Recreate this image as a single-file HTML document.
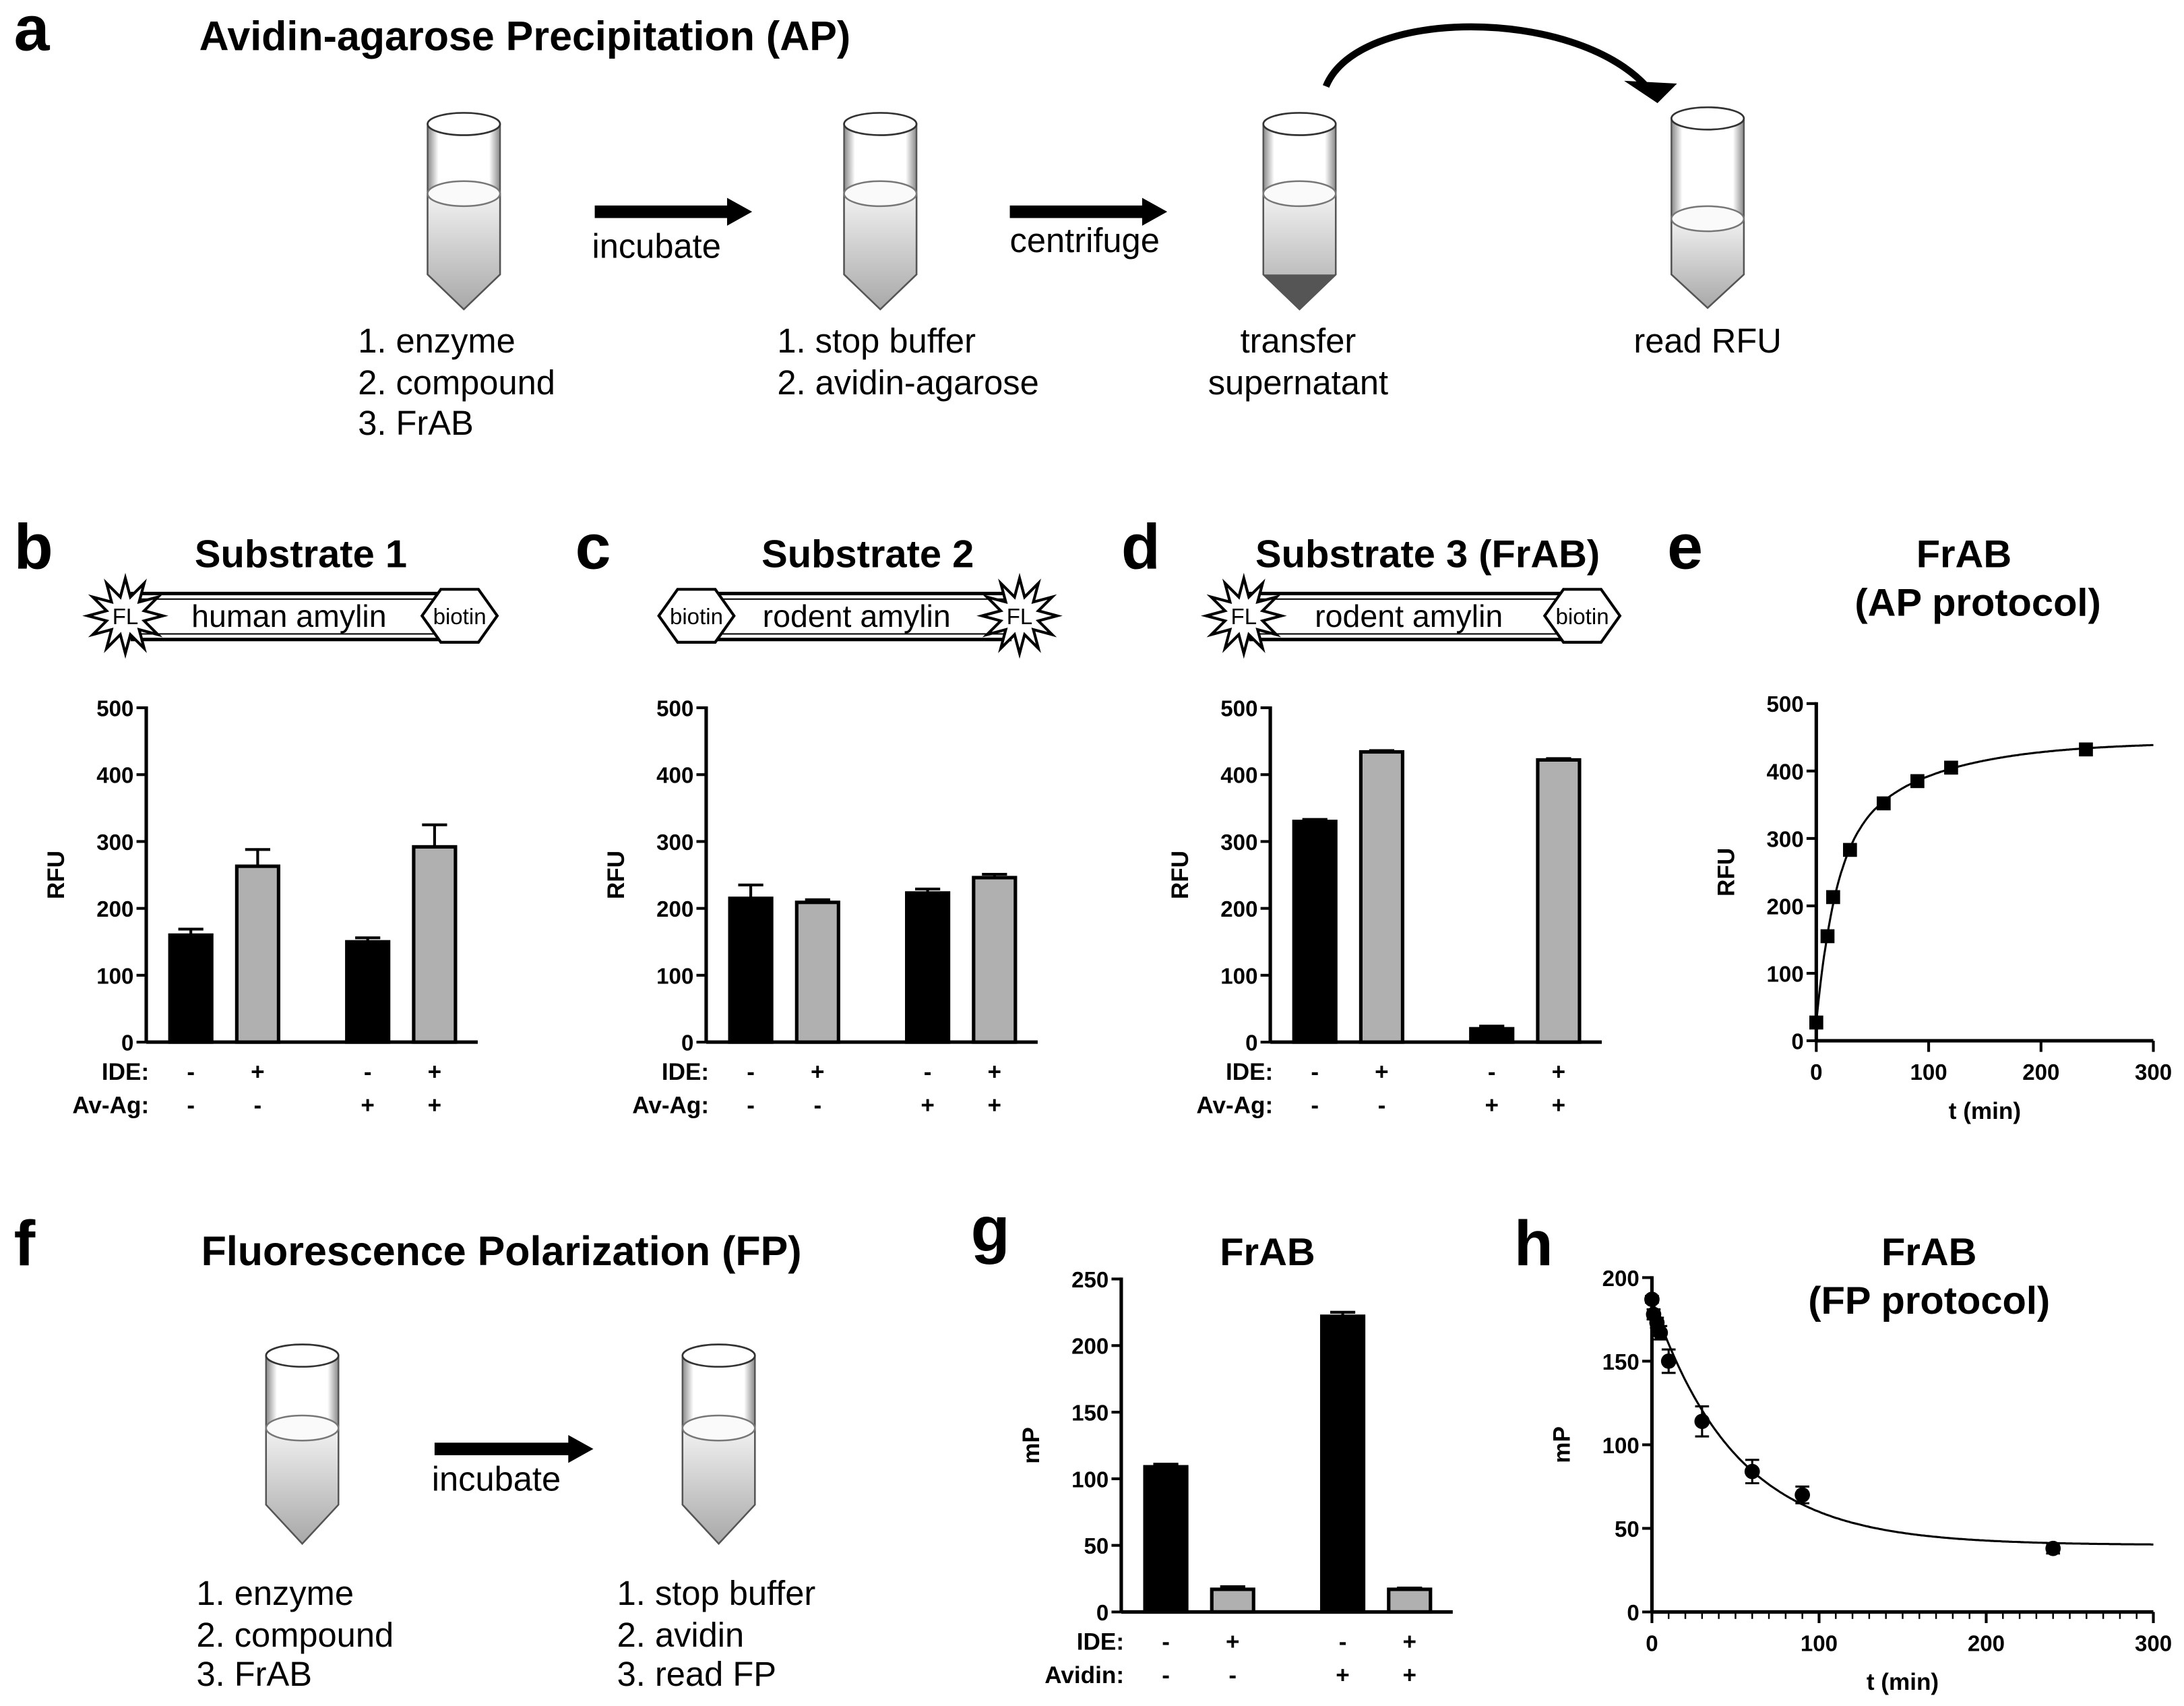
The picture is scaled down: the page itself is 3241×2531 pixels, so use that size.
<!DOCTYPE html>
<html><head><meta charset="utf-8"><style>
html,body{margin:0;padding:0;background:#fff}
svg{display:block}
text{font-family:"Liberation Sans",Arial,sans-serif}
.b{font-weight:bold}
</style></head><body>
<svg id="fig" xmlns="http://www.w3.org/2000/svg" width="3241" height="2531" viewBox="0 0 1568 1224.5">
<defs>
<linearGradient id="liq" x1="0" y1="0" x2="0" y2="1"><stop offset="0" stop-color="#f2f2f2"/><stop offset="1" stop-color="#a8a8a8"/></linearGradient>
<linearGradient id="glass" x1="0" y1="0" x2="1" y2="0"><stop offset="0" stop-color="#888"/><stop offset="0.15" stop-color="#fff"/><stop offset="0.85" stop-color="#fff"/><stop offset="1" stop-color="#888"/></linearGradient>
</defs>
<g id="static"></g>
<g id="charts"></g>
</svg>
<script>
// ---------- chart data ----------
const barCats = ["IDE-/Av-", "IDE+/Av-", "IDE-/Av+", "IDE+/Av+"];
const subs1Vals = [160, 263, 150, 292];
const subs1Err = [9, 25, 6, 33];
const subs2Vals = [215, 209, 223, 246];
const subs2Err = [20, 4, 6, 5];
const subs3Vals = [330, 434, 20, 422];
const subs3Err = [3, 2, 4, 2];
const fpBarVals = [109, 17, 222, 17];
const fpBarErr = [2, 2, 3, 1];
const rfuTicks = [0, 100, 200, 300, 400, 500];
const mpTicks = [0, 50, 100, 150, 200, 250];
const timeTicks = [0, 100, 200, 300];
const mpTimeTicks = [0, 50, 100, 150, 200];
const apTimes = [0, 10, 15, 30, 60, 90, 120, 240];
const apRFU = [27, 155, 213, 283, 352, 385, 405, 432];
const apFitParams = [27, 250, 0.06, 166, 0.012]; // Y0, A1, k1, A2, k2
const fpTimes = [0, 1, 3, 5, 10, 30, 60, 90, 240];
const fpMP = [187, 178, 173, 167, 150, 114, 84, 70, 38];
const fpErr = [2, 3, 3, 4, 7, 9, 7, 5, 3];
const fpFitParams = [187, 40, 0.02]; // Y0, plateau, k

const NS = "http://www.w3.org/2000/svg";
const S = document.getElementById('static');
const C = document.getElementById('charts');
function mk(tag, attrs, parent, txt){const e=document.createElementNS(NS,tag);for(const k in attrs)e.setAttribute(k,attrs[k]);if(txt!==undefined)e.textContent=txt;(parent||S).appendChild(e);return e;}

// ---------- panel labels & titles ----------
const labels=[["a",10,36],["b",10,408],["c",413,408],["d",805,408],["e",1197,408],["f",10,908],["g",697,898],["h",1087,908]];
labels.forEach(l=>{const t=mk('text',{x:l[1],y:l[2],'font-size':46,class:'b'},S,l[0]);

});
function title(txt,x,y,size,name,anchor){const t=mk('text',{x:x,y:y,'font-size':size,class:'b','text-anchor':anchor||'middle'},S,txt);

return t;}
title("Avidin-agarose Precipitation (AP)",143,36,29.5,'title-ap','start');
title("Substrate 1",216,407,28,'title-substrate-1');
title("Substrate 2",623,407,28,'title-substrate-2');
title("Substrate 3 (FrAB)",1025,407,28,'title-substrate-3');
title("FrAB",1410,407,28,'title-e-line1');
title("(AP protocol)",1420,442,28,'title-e-line2');
title("Fluorescence Polarization (FP)",360,908,29.5,'title-fp');
title("FrAB",910,908,28,'title-g');
title("FrAB",1385,908,28,'title-h-line1');
title("(FP protocol)",1385,943,28,'title-h-line2');

// ---------- tubes ----------
function tube(x,top,liq,bodyEnd,tip,dark,name){
  const g=mk('g',{});
  
  
  const w=52,cx=x+w/2;
  mk('path',{d:`M${x},${top+8} L${x},${bodyEnd} L${cx},${tip} L${x+w},${bodyEnd} L${x+w},${top+8} Z`,fill:'url(#glass)',stroke:'#555','stroke-width':1.2},g);
  mk('path',{d:`M${x},${liq} L${x},${bodyEnd} L${cx},${tip} L${x+w},${bodyEnd} L${x+w},${liq} Z`,fill:'url(#liq)',stroke:'#555','stroke-width':1.2},g);
  if(dark) mk('path',{d:`M${x},${bodyEnd} L${cx},${tip} L${x+w},${bodyEnd} Z`,fill:'#555'},g);
  mk('ellipse',{cx:cx,cy:top+8,rx:w/2,ry:8,fill:'#fff',stroke:'#333','stroke-width':1.3},g);
  mk('ellipse',{cx:cx,cy:liq,rx:w/2,ry:9,fill:'#fafafa',stroke:'#777','stroke-width':1.2},g);
}
tube(307,81,139,197,222,false,'tube-1-ap');
tube(606,81,139,197,222,false,'tube-2-ap');
tube(907,81,139,197,222,true,'tube-3-ap');
tube(1200,77,157,197,221,false,'tube-4-ap');
tube(191,965,1025,1080,1108,false,'tube-1-fp');
tube(490,965,1025,1080,1108,false,'tube-2-fp');

function arrow(x1,x2,y,name){const g=mk('g',{});


mk('rect',{x:x1,y:y-4.5,width:x2-x1-16,height:9,fill:'#000'},g);
mk('path',{d:`M${x2-18},${y-10} L${x2},${y} L${x2-18},${y+10} Z`,fill:'#000'},g);}
arrow(427,540,152,'arrow-incubate-ap');
arrow(725,838,152,'arrow-centrifuge');
arrow(312,426,1040,'arrow-incubate-fp');
const cur=mk('path',{d:'M952,62 C975,5 1130,5 1182,62',fill:'none',stroke:'#000','stroke-width':5});


const ch=mk('path',{d:'M1166,58 L1204,60 L1190,74 Z',fill:'#000'});



function txt(s,x,y,name,anchor,size){const t=mk('text',{x:x,y:y,'font-size':size||24.5,'text-anchor':anchor||'start'},S,s);

return t;}
txt("incubate",425,185,'label-incubate-ap');
txt("centrifuge",725,181,'label-centrifuge');
txt("1. enzyme",257,253,'step-enzyme-ap');
txt("2. compound",257,283,'step-compound-ap');
txt("3. FrAB",257,312,'step-frab-ap');
txt("1. stop buffer",558,253,'step-stop-buffer-ap');
txt("2. avidin-agarose",558,283,'step-avidin-agarose');
txt("transfer",932,253,'label-transfer','middle');
txt("supernatant",932,283,'label-supernatant','middle');
txt("read RFU",1226,253,'label-read-rfu','middle');
txt("incubate",310,1070,'label-incubate-fp');
txt("1. enzyme",141,1152,'step-enzyme-fp');
txt("2. compound",141,1182,'step-compound-fp');
txt("3. FrAB",141,1210,'step-frab-fp');
txt("1. stop buffer",443,1152,'step-stop-buffer-fp');
txt("2. avidin",443,1182,'step-avidin-fp');
txt("3. read FP",443,1210,'step-read-fp');

// ---------- peptide diagrams ----------
function star(cx,cy,g){let p=[];for(let i=0;i<24;i++){const r=i%2?14:27;const a=Math.PI*i/12;p.push((cx+r*Math.cos(a)).toFixed(1)+','+(cy+r*Math.sin(a)).toFixed(1));}
mk('polygon',{points:p.join(' '),fill:'#fff',stroke:'#000','stroke-width':2},g);
mk('text',{x:cx,y:cy+6,'font-size':16,'text-anchor':'middle'},g,'FL');}
function hexa(cx,cy,g){const w=27,h=19;mk('polygon',{points:`${cx-w},${cy} ${cx-w/2},${cy-h} ${cx+w/2},${cy-h} ${cx+w},${cy} ${cx+w/2},${cy+h} ${cx-w/2},${cy+h}`,fill:'#fff',stroke:'#000','stroke-width':2},g);
mk('text',{x:cx,y:cy+6,'font-size':16,'text-anchor':'middle'},g,'biotin');}
function peptide(x1,x2,label,starX,hexX,name){const g=mk('g',{});


mk('rect',{x:x1,y:426,width:x2-x1,height:33,fill:'#fff',stroke:'#000','stroke-width':2.5},g);
mk('rect',{x:x1,y:430,width:x2-x1,height:25,fill:'#fff',stroke:'#000','stroke-width':1},g);
mk('text',{x:(x1+x2)/2,y:450,'font-size':22.5,'text-anchor':'middle'},g,label);
star(starX,442,g);hexa(hexX,442,g);}
peptide(95,320,'human amylin',90,330,'peptide-substrate-1');
peptide(505,725,'rodent amylin',732,500,'peptide-substrate-2');
peptide(898,1125,'rodent amylin',893,1136,'peptide-substrate-3');

// ---------- bar charts ----------
function barChart(o){
  const g=mk('g',{},C);
  
  
  const ys=v=>o.y0-(v/o.ymax)*(o.y0-o.ytop);
  const xs=i=>o.ax+32+i*48+(i>=2?31:0);
  const yl=mk('line',{x1:o.ax,y1:o.ytop-1,x2:o.ax,y2:o.y0,stroke:'#000','stroke-width':2.5},g);
  
  
  o.ticks.forEach(t=>{mk('line',{x1:o.ax-7,y1:ys(t),x2:o.ax,y2:ys(t),stroke:'#000','stroke-width':2},g);
    const tl=mk('text',{x:o.ax-9,y:ys(t)+6,'font-size':16,class:'b','text-anchor':'end'},g,t);
    
    });
  const yt=mk('text',{transform:`translate(${o.ax-59},${(o.y0+o.ytop)/2}) rotate(-90)`,'font-size':17,class:'b','text-anchor':'middle'},g,o.ylabel);
  
  
  o.vals.forEach((v,i)=>{const x=xs(i),top=ys(v),gray=i%2==1;
    const e=mk('line',{x1:x,y1:ys(v+o.err[i]),x2:x,y2:top,stroke:'#000','stroke-width':2},g);
    
    
    mk('line',{x1:x-9,y1:ys(v+o.err[i]),x2:x+9,y2:ys(v+o.err[i]),stroke:'#000','stroke-width':2},g);
    const r=mk('rect',{x:x-15,y:top,width:30,height:o.y0-top,fill:gray?'#b0b0b0':'#000',stroke:'#000','stroke-width':2.5},g);
    
    
    const s1=mk('text',{x:x,y:o.y0+27,'font-size':17,class:'b','text-anchor':'middle'},g,gray?'+':'-');
    
    
    const s2=mk('text',{x:x,y:o.y0+51,'font-size':17,class:'b','text-anchor':'middle'},g,i>=2?'+':'-');
    
    });
  const xl=mk('line',{x1:o.ax,y1:o.y0,x2:o.ax+238,y2:o.y0,stroke:'#000','stroke-width':2.5},g);
  
  
  const r1=mk('text',{x:o.ax+2,y:o.y0+27,'font-size':17,class:'b','text-anchor':'end'},g,'IDE:');
  
  
  const r2=mk('text',{x:o.ax+2,y:o.y0+51,'font-size':17,class:'b','text-anchor':'end'},g,o.row2);
  
  
}
barChart({name:'chart-substrate-1',ax:105,y0:748,ytop:508,ymax:500,ticks:rfuTicks,vals:subs1Vals,err:subs1Err,ylabel:'RFU',row2:'Av-Ag:'});
barChart({name:'chart-substrate-2',ax:507,y0:748,ytop:508,ymax:500,ticks:rfuTicks,vals:subs2Vals,err:subs2Err,ylabel:'RFU',row2:'Av-Ag:'});
barChart({name:'chart-substrate-3',ax:912,y0:748,ytop:508,ymax:500,ticks:rfuTicks,vals:subs3Vals,err:subs3Err,ylabel:'RFU',row2:'Av-Ag:'});
barChart({name:'chart-fp-bars',ax:805,y0:1157,ytop:918,ymax:250,ticks:mpTicks,vals:fpBarVals,err:fpBarErr,ylabel:'mP',row2:'Avidin:'});

// ---------- time-course charts ----------
function timeChart(o){
  const g=mk('g',{},C);
  
  
  const xs=t=>o.ax+(t/300)*(o.ax2-o.ax);
  const ys=v=>o.y0-(v/o.ymax)*(o.y0-o.ytop);
  const yl=mk('line',{x1:o.ax,y1:o.ytop-1,x2:o.ax,y2:o.y0,stroke:'#000','stroke-width':2.5},g);
  
  
  const xl=mk('line',{x1:o.ax,y1:o.y0,x2:o.ax2,y2:o.y0,stroke:'#000','stroke-width':2.5},g);
  
  
  o.yticks.forEach(t=>{mk('line',{x1:o.ax-7,y1:ys(t),x2:o.ax,y2:ys(t),stroke:'#000','stroke-width':2},g);
    const tl=mk('text',{x:o.ax-9,y:ys(t)+6,'font-size':16,class:'b','text-anchor':'end'},g,t);
    
    });
  if(o.minor){for(let t=10;t<300;t+=10)mk('line',{x1:xs(t),y1:o.y0,x2:xs(t),y2:o.y0+5,stroke:'#000','stroke-width':1.2},g);}
  timeTicks.forEach(t=>{mk('line',{x1:xs(t),y1:o.y0,x2:xs(t),y2:o.y0+8,stroke:'#000','stroke-width':2},g);
    const tl=mk('text',{x:xs(t),y:o.y0+28,'font-size':16,class:'b','text-anchor':'middle'},g,t);
    
    });
  const xt=mk('text',{x:(o.ax+o.ax2)/2,y:o.y0+56,'font-size':17,class:'b','text-anchor':'middle'},g,'t (min)');
  
  
  const yt=mk('text',{transform:`translate(${o.ax-59},${(o.y0+o.ytop)/2}) rotate(-90)`,'font-size':17,class:'b','text-anchor':'middle'},g,o.ylabel);
  
  
  let d='';for(let t=0;t<=300;t+=1){d+=(t?'L':'M')+xs(t).toFixed(1)+','+ys(o.fit(t)).toFixed(1);}
  const fl=mk('path',{d:d,fill:'none',stroke:'#000','stroke-width':1.5},g);
  
  
  o.tx.forEach((t,i)=>{const x=xs(t),y=ys(o.ty[i]);
    if(o.err){const e=o.err[i];mk('path',{d:`M${x},${ys(o.ty[i]+e)}L${x},${ys(o.ty[i]-e)}M${x-5},${ys(o.ty[i]+e)}L${x+5},${ys(o.ty[i]+e)}M${x-5},${ys(o.ty[i]-e)}L${x+5},${ys(o.ty[i]-e)}`,stroke:'#000','stroke-width':1.5,fill:'none'},g);}
    const p=o.square?mk('rect',{x:x-5,y:y-5,width:10,height:10,fill:'#000'},g):mk('circle',{cx:x,cy:y,r:5.5,fill:'#000'},g);
    
    });
}
timeChart({name:'chart-ap-timecourse',ax:1304,ax2:1546,y0:747,ytop:505,ymax:500,yticks:rfuTicks,ylabel:'RFU',tx:apTimes,ty:apRFU,square:true,
  fit:t=>apFitParams[0]+apFitParams[1]*(1-Math.exp(-apFitParams[2]*t))+apFitParams[3]*(1-Math.exp(-apFitParams[4]*t))});
timeChart({name:'chart-fp-timecourse',ax:1186,ax2:1546,y0:1157,ytop:917,ymax:200,yticks:mpTimeTicks,ylabel:'mP',tx:fpTimes,ty:fpMP,err:fpErr,minor:true,
  fit:t=>fpFitParams[1]+(fpFitParams[0]-fpFitParams[1])*Math.exp(-fpFitParams[2]*t)});
</script>
</body></html>
